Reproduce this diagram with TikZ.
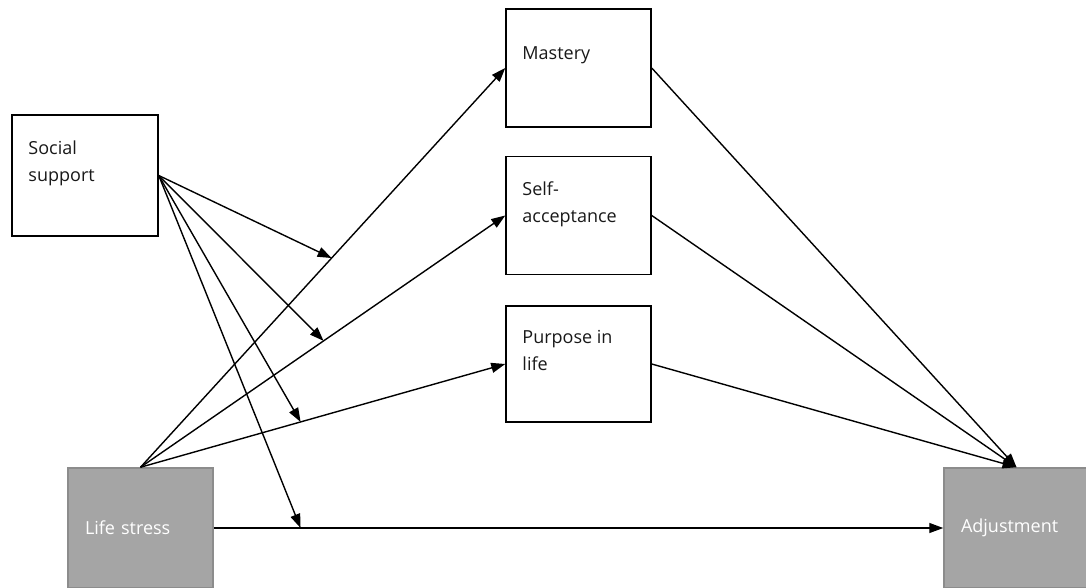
\documentclass[tikz,border=0pt]{standalone}
\usepackage{fontspec}
\setmainfont{Open Sans}
\usepackage{tikz}
\usetikzlibrary{shapes, arrows.meta, positioning}
\usepackage{xcolor}
\definecolor{boxgray}{HTML}{A5A5A5}
\definecolor{edgegray}{HTML}{8C8C8C}

\begin{document}
\begin{tikzpicture}[x=1pt, y=-1pt, node distance=28pt,
    font=\fontsize{18}{27}\selectfont,
    block/.style={rectangle, draw, line width=1.5pt, fill=white, minimum width=145pt, minimum height=118pt, inner sep=0pt},
    grayblock/.style={block, draw=edgegray, fill=boxgray, text=white, text width=111pt, inner xsep=17pt, align=left, minimum height=120pt},
    lbl/.style={anchor=north west, align=left, inner sep=0pt, text=black!90, xshift=17pt},
    link/.style={line width=1.4pt, -{Triangle[length=14pt, width=10pt]}}]

\useasboundingbox (0,0) rectangle (1086,588);

% Nodes
\node [block, minimum width=146pt, minimum height=121pt, label={[lbl, yshift=-26pt]north west:Social\\support}] (ss) at (85,175.5) {};
\node [block, label={[lbl, yshift=-38pt]north west:Mastery}] (ms) at (578.5,68) {};
\node [block, below=28pt of ms, label={[lbl, yshift=-26pt]north west:Self-\\acceptance}] (sa) {};
\node [block, below=30pt of sa, minimum height=116pt, label={[lbl, yshift=-25pt]north west:Purpose in\\life}] (pl) {};
\node [grayblock] (ls) at (140.5,528) {Life stress};
\node [grayblock] (adj) at (1016.5,528) {Adjustment};

% Points where the moderator meets the paths
\path (ls.north) -- (ms.west) coordinate[pos=0.524] (m1);
\path (ls.north) -- (sa.west) coordinate[pos=0.502] (m2);
\path (ls.north) -- (pl.west) coordinate[pos=0.439] (m3);
\path (ls.east) -- (adj.west) coordinate[pos=0.119] (m4);

% Arrows from life stress
\draw[link] (ls.north) -- (ms.west);
\draw[link] (ls.north) -- (sa.west);
\draw[link] (ls.north) -- (pl.west);
\draw[link] (ls.east) -- (adj.west);

% Arrows to adjustment
\draw[link] (ms.east) -- (adj.north);
\draw[link] (sa.east) -- (adj.north);
\draw[link] (pl.east) -- (adj.north);

% Moderation by social support
\draw[link] (ss.east) -- (m1);
\draw[link] (ss.east) -- (m2);
\draw[link] (ss.east) -- (m3);
\draw[link] (ss.east) -- (m4);

\end{tikzpicture}
\end{document}
